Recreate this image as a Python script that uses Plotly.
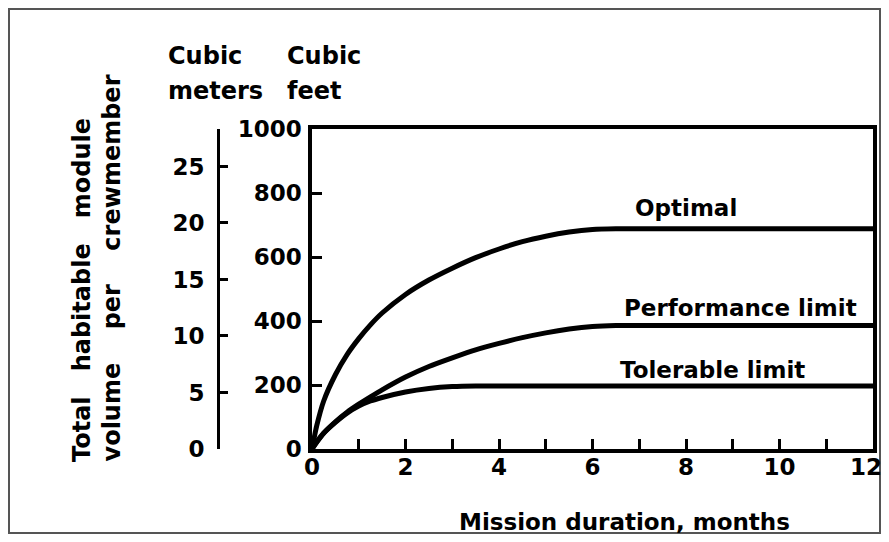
import plotly.graph_objects as go

# ---------------- data ----------------
months = [0, 0.1, 0.25, 0.5, 0.75, 1, 1.25, 1.5, 2, 2.5, 3, 3.5, 4, 4.5, 5, 5.5, 6, 6.5, 12]
optimal_ft = [0, 72, 150, 232, 295, 345, 388, 425, 483, 528, 565, 598, 625, 648, 665, 678, 686, 688, 688]
performance_ft = [0, 22, 50, 85, 115, 140, 163, 185, 225, 258, 285, 310, 330, 348, 363, 375, 383, 386, 386]
tolerable_ft = [0, 21, 49, 83, 112, 134, 150, 161, 178, 189, 195, 197, 197, 197, 197, 197, 197, 197, 197]

series_names = ["Optimal", "Performance limit", "Tolerable limit"]

x_tickvals = list(range(0, 13))
x_ticktext = [str(v) if (v % 2 == 0 and v < 12) else "" for v in x_tickvals]
ft_tickvals = [0, 200, 400, 600, 800, 1000]
m_tickvals = [0, 5, 10, 15, 20, 25]
FT_PER_M3 = 35.3147

# ---------------- layout geometry (page pixels) ----------------
OFF = 8                                # page body margin
W, H = 873, 526                        # figure size (fits window without scrollbars)
PL, PR, PT, PB = 200, 873, 129, 449    # plotting area in page pixels
X0 = 312                               # pixel of the main (feet) axis
FIG_R, FIG_B = OFF + W, OFF + H


def pxx(px):
    return (px - PL) / (PR - PL)


def pxy(py):
    return (PB - py) / (PB - PT)


FONT = dict(family="DejaVu Sans", size=23, color="black", weight="bold")
FONT24 = dict(family="DejaVu Sans", size=24, color="black", weight="bold")

fig = go.Figure()
for name, ys in zip(series_names, [optimal_ft, performance_ft, tolerable_ft]):
    fig.add_trace(go.Scatter(
        x=months, y=ys, mode="lines", name=name,
        line=dict(color="black", width=5, shape="spline", smoothing=0.7),
        showlegend=False, hoverinfo="skip",
    ))

# invisible trace bound to meters axis so it renders
fig.add_trace(go.Scatter(x=[0], y=[0], yaxis="y2", mode="markers",
                         marker=dict(opacity=0), showlegend=False, hoverinfo="skip"))

m_top = 1000 / FT_PER_M3

fig.update_layout(
    width=W, height=H,
    template="none",
    paper_bgcolor="white", plot_bgcolor="white",
    margin=dict(l=PL - OFF, r=FIG_R - PR, t=PT - OFF, b=FIG_B - PB, autoexpand=False),
    font=FONT,
    xaxis=dict(
        domain=[pxx(X0), 1], range=[0, 12],
        tickvals=x_tickvals, ticktext=x_ticktext,
        ticks="inside", ticklen=10, tickwidth=2.5, tickcolor="black",
        showline=True, linewidth=3.5, linecolor="black", mirror=True,
        showgrid=False, zeroline=False, automargin=False,
        tickfont=FONT, ticklabeloverflow="allow", ticklabelstandoff=-5,
    ),
    yaxis=dict(
        range=[0, 1000], tickvals=ft_tickvals,
        ticks="inside", ticklen=10, tickwidth=2.5, tickcolor="black",
        showline=True, linewidth=3.5, linecolor="black", mirror=True,
        showgrid=False, zeroline=False, automargin=False,
        tickfont=FONT, ticklabelstandoff=2,
    ),
    yaxis2=dict(
        overlaying="y", anchor="free", position=pxx(218), side="left",
        range=[0, m_top],
        tickvals=m_tickvals + [m_top * 0.9995],
        ticktext=[str(v) for v in m_tickvals] + [""],
        ticks="inside", ticklen=8, tickwidth=2.5, tickcolor="black",
        showline=True, linewidth=3, linecolor="black",
        showgrid=False, zeroline=False, automargin=False,
        tickfont=FONT, ticklabelstandoff=8,
    ),
)

NB = "\u00a0"
ann = []
# unit headers
ann.append(dict(text="Cubic", x=pxx(166), y=pxy(56), xanchor="left", yanchor="middle", font=FONT24))
ann.append(dict(text="meters", x=pxx(166), y=pxy(91), xanchor="left", yanchor="middle", font=FONT24))
ann.append(dict(text="Cubic", x=pxx(285), y=pxy(56), xanchor="left", yanchor="middle", font=FONT24))
ann.append(dict(text="feet", x=pxx(285), y=pxy(91), xanchor="left", yanchor="middle", font=FONT24))
# rotated y title
ann.append(dict(text="Total" + NB * 2 + " habitable" + NB * 2 + " module", textangle=-90,
                x=pxx(82), y=pxy(464), xanchor="center", yanchor="bottom", font=FONT24))
ann.append(dict(text="volume" + NB * 3 + " per" + NB * 3 + " crewmember", textangle=-90,
                x=pxx(111), y=pxy(464), xanchor="center", yanchor="bottom", font=FONT24))
# x title
ann.append(dict(text="Mission duration, months", x=pxx(624), y=pxy(522),
                xanchor="center", yanchor="middle"))
# last x tick label (sits just inside the page edge, as in the original)
ann.append(dict(text="12", x=pxx(866), y=pxy(467), xanchor="center", yanchor="middle"))
# curve labels
for name, (lx, ly) in zip(series_names, [(633, 208), (622, 308), (618, 370)]):
    ann.append(dict(text=name, x=pxx(lx), y=pxy(ly), xanchor="left", yanchor="middle"))

for a in ann:
    a.setdefault("font", FONT)
    fig.add_annotation(xref="paper", yref="paper", showarrow=False, **a)

# outer frame
fig.add_shape(type="rect", xref="paper", yref="paper",
              x0=pxx(9), x1=pxx(FIG_R - 1), y0=pxy(FIG_B - 1), y1=pxy(9),
              line=dict(color="#555555", width=2), layer="below")

fig.write_html("out.html")
